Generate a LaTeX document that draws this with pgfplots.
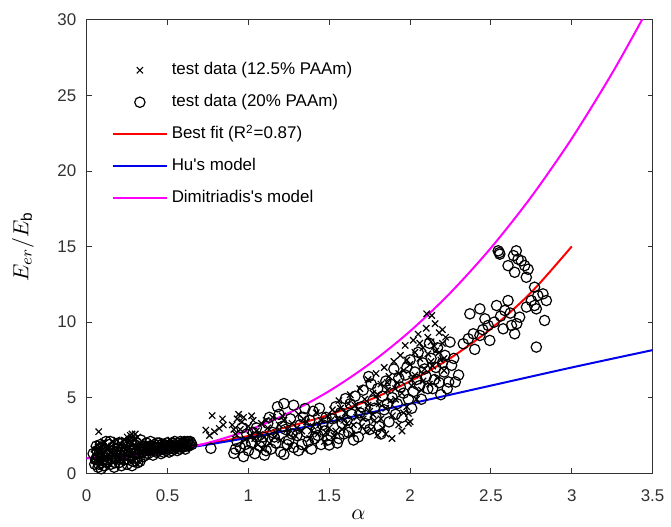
\documentclass[border=0pt]{standalone}
\usepackage{fontspec}
\setmainfont{Liberation Sans}
\usepackage{pgfplots}
\pgfplotsset{compat=1.18}
\definecolor{axgray}{RGB}{50,50,50}
\definecolor{fitred}{RGB}{255,0,0}
\definecolor{hublue}{RGB}{0,0,235}
\definecolor{dimmag}{RGB}{255,0,255}

\begin{document}
\begin{tikzpicture}
\begin{axis}[
    name=ax,
    scale only axis,
    width=284pt, height=227.5pt,
    xmin=0, xmax=3.5, ymin=0, ymax=30,
    xtick={0,0.5,1,1.5,2,2.5,3,3.5},
    ytick={0,5,10,15,20,25,30},
    tick align=inside,
    major tick length=2.5pt,
    axis line style={draw=axgray, line width=0.5pt},
    tick style={draw=axgray, line width=0.5pt},
    ticklabel style={font=\fontsize{8.5}{10}\selectfont, text=axgray},
    xticklabel style={yshift=-4.7pt},
    yticklabel style={xshift=-1.7pt},
    /pgf/number format/assume math mode=true,
    xlabel={$\alpha$},
    ylabel={$E_{er}/E_{\mathrm{b}}$},
    label style={font=\fontsize{11}{13}\selectfont},
    xlabel style={at={(axis description cs:0.48,-0.066)}, anchor=north},
    ylabel style={at={(axis description cs:-0.1127,0.5)}, anchor=center},
    legend image code/.code={%
        \draw[mark repeat=2,mark phase=2,#1] plot coordinates {(0pt,0pt) (13.5pt,0pt) (27pt,0pt)};},
    legend style={draw=none, fill=none, at={(axis description cs:0.044,0.914)},
        anchor=north west, inner sep=0pt, row sep=5.05pt,
        font=\fontsize{8.5}{10}\selectfont,
        nodes={inner xsep=2pt, inner ysep=1.25pt, text height=6.5pt, text depth=2pt}},
    legend cell align=left,
]

% 12.5% PAAm
\addplot[only marks, mark=x, mark size=2.25pt, mark options={line width=0.6pt}, black]
coordinates {
(0.05,1.2) (0.06,0.8) (0.07,1.5) (0.08,1.0) (0.09,1.8) (0.10,0.7) (0.10,1.3) (0.11,2.0)
(0.12,1.1) (0.13,1.6) (0.14,0.9) (0.15,1.4) (0.16,2.1) (0.17,1.2) (0.18,1.7) (0.19,0.8)
(0.20,1.5) (0.21,1.9) (0.22,1.1) (0.23,2.2) (0.24,1.6) (0.25,2.4) (0.26,1.3) (0.27,2.5)
(0.28,2.0) (0.29,0.9) (0.30,2.3) (0.31,1.5) (0.32,1.8) (0.33,0.7) (0.34,2.1) (0.35,1.2)
(0.28,2.6) (0.30,2.6) (0.26,2.2) (0.29,1.4) (0.31,0.6) (0.27,0.8) (0.074,2.75)
(0.045,1.6) (0.055,0.9) (0.065,1.9) (0.075,1.3) (0.085,0.6) (0.095,1.5) (0.105,2.1) (0.115,0.9)
(0.125,1.8) (0.135,1.2) (0.145,0.6) (0.155,1.8) (0.165,0.7) (0.175,1.5) (0.185,2.2) (0.195,1.1)
(0.205,2.0) (0.215,0.7) (0.225,1.7) (0.235,1.3) (0.245,0.9) (0.255,2.0) (0.265,1.7) (0.275,2.3)
(0.285,1.2) (0.295,2.2) (0.305,1.8) (0.315,2.4) (0.325,1.1) (0.335,1.5) (0.345,1.9) (0.355,1.6)
(0.37,1.9) (0.39,1.6) (0.41,2.0) (0.43,1.5) (0.45,1.8) (0.47,2.1) (0.49,1.6) (0.51,1.9)
(0.53,1.7) (0.55,2.0) (0.57,1.8) (0.59,2.1) (0.61,1.9) (0.63,2.0) (0.40,1.4) (0.46,1.5)
(0.52,2.2) (0.58,1.6)
(0.737,2.86) (0.776,3.82) (0.79,2.75) (0.82,2.97) (0.84,3.6) (0.845,3.2) (0.76,2.5)
(0.90,3.2) (0.92,2.6) (0.93,3.6) (0.95,2.9) (0.96,3.4) (0.98,2.2) (1.00,3.1) (1.01,2.5)
(1.03,3.5) (1.05,2.8) (1.06,1.9) (1.08,3.3) (1.10,2.4) (1.12,3.0) (1.13,2.0) (1.15,3.7)
(1.17,2.7) (1.19,3.2) (1.20,2.2) (1.22,3.5) (1.24,2.9) (1.26,1.8) (1.27,3.3) (1.29,2.5)
(1.31,3.9) (1.33,2.8) (1.35,1.54) (1.36,3.4) (1.38,2.3) (1.40,3.1) (1.42,4.0) (1.43,2.6)
(1.45,3.5) (1.47,2.1) (1.49,3.8) (0.94,3.9) (1.02,3.8) (1.09,1.6)
(0.91,2.9) (0.97,3.7) (1.04,2.3) (1.11,3.5) (1.16,2.4) (1.21,3.8) (1.25,2.6) (1.30,3.0)
(1.34,3.6) (1.39,2.8) (1.44,3.2) (1.48,2.7)
(1.50,3.0) (1.52,4.2) (1.53,2.5) (1.55,3.6) (1.56,4.8) (1.58,2.9) (1.60,4.0) (1.61,3.3)
(1.63,5.2) (1.64,2.6) (1.66,4.5) (1.67,3.7) (1.69,5.6) (1.70,3.1) (1.72,4.9) (1.73,2.75)
(1.74,6.2) (1.75,4.1) (1.77,5.3) (1.78,3.5) (1.79,6.6) (1.80,2.52) (1.81,4.6) (1.82,5.9)
(1.83,3.0) (1.84,7.0) (1.85,4.3) (1.86,5.5) (1.87,6.4) (1.888,2.3) (1.89,3.8) (1.90,7.4)
(1.91,4.9) (1.92,6.0) (1.93,3.2) (1.94,7.8) (1.95,5.3) (1.96,6.8) (1.97,8.46) (1.98,4.4)
(1.99,3.3) (1.99,3.96) (2.00,7.2) (2.01,5.8) (2.02,8.8) (2.03,6.5) (2.04,4.9) (2.05,9.2)
(2.06,7.6) (2.07,5.5) (2.08,8.3) (2.09,6.9) (2.10,9.6) (2.103,10.55) (2.11,7.9) (2.12,5.9)
(2.13,8.7) (2.134,10.44) (2.14,7.1) (2.155,9.9) (2.16,8.1) (2.17,6.3) (2.18,9.3) (2.19,7.5)
(2.20,8.6) (2.21,6.8) (2.22,9.0) (1.76,2.9) (1.85,2.6) (1.95,2.8) (2.00,3.4)
(1.51,3.5) (1.54,2.8) (1.57,4.3) (1.59,3.5) (1.62,4.6) (1.65,3.2) (1.68,4.2) (1.71,3.6)
(1.74,4.5) (1.77,3.9) (1.80,5.2) (1.82,3.6) (1.86,6.0) (1.88,4.8) (1.91,5.6) (1.93,6.6)
(1.96,4.0) (1.98,7.5) (2.01,6.2) (2.03,8.0) (2.06,8.6) (2.08,6.1) (2.11,9.0) (2.13,7.4)
(2.15,8.4) (2.18,8.0) (2.20,9.5) (2.21,7.6)
};
\addlegendentry{test data (12.5\% PAAm)}

% 20% PAAm
\addplot[only marks, mark=o, mark size=2.6pt, mark options={line width=0.6pt}, black]
coordinates {
(0.05,0.6) (0.06,1.0) (0.07,0.4) (0.08,1.4) (0.09,0.7) (0.10,1.7) (0.11,0.5) (0.12,1.2)
(0.13,0.9) (0.14,1.9) (0.15,0.6) (0.16,1.3) (0.17,0.4) (0.18,1.0) (0.19,1.6) (0.20,0.7)
(0.21,1.2) (0.22,2.0) (0.23,0.9) (0.24,1.4) (0.25,0.6) (0.26,1.8) (0.27,1.1) (0.28,0.5)
(0.29,1.6) (0.30,1.0) (0.31,2.0) (0.32,1.3) (0.33,0.8) (0.34,1.7) (0.35,1.1) (0.36,1.5)
(0.37,2.0) (0.38,1.3) (0.39,1.8) (0.40,1.6) (0.41,1.2) (0.42,1.9) (0.43,1.4) (0.44,1.7)
(0.45,2.0) (0.46,1.3) (0.47,1.6) (0.48,1.9) (0.49,1.5) (0.50,1.8) (0.51,1.4) (0.52,1.7)
(0.53,2.0) (0.54,1.6) (0.55,1.9) (0.56,1.5) (0.57,1.8) (0.58,2.1) (0.59,1.7) (0.60,2.0)
(0.61,1.6) (0.62,1.9) (0.63,1.8) (0.64,2.1) (0.65,1.9) (0.06,1.8) (0.09,0.3) (0.12,2.1)
(0.04,1.3) (0.768,1.65)
(0.055,0.9) (0.065,1.5) (0.075,0.6) (0.085,1.9) (0.095,1.1) (0.105,0.5) (0.115,1.5) (0.125,0.7)
(0.135,1.3) (0.145,2.1) (0.155,1.0) (0.165,1.7) (0.175,0.7) (0.185,1.4) (0.195,2.0) (0.205,1.0)
(0.215,0.5) (0.225,1.6) (0.235,1.2) (0.245,1.9) (0.255,0.9) (0.265,1.5) (0.275,2.1) (0.285,0.8)
(0.295,1.9) (0.305,1.3) (0.315,0.7) (0.325,1.6) (0.335,2.2) (0.345,1.4) (0.355,1.8) (0.365,1.2)
(0.375,1.7) (0.385,1.5) (0.395,2.1) (0.405,1.8) (0.415,1.5) (0.425,1.7) (0.435,2.0) (0.445,1.5)
(0.455,1.7) (0.465,1.9) (0.475,1.4) (0.485,1.7) (0.495,2.0) (0.505,1.6) (0.515,1.8) (0.525,1.5)
(0.535,1.8) (0.545,2.1) (0.555,1.7) (0.565,2.0) (0.575,1.6) (0.585,1.9) (0.595,1.8) (0.605,2.1)
(0.615,1.8) (0.625,2.1) (0.635,1.9) (0.645,2.0)
(0.91,1.32) (0.93,2.1) (0.95,1.7) (0.97,1.1) (0.99,2.6) (1.00,1.5) (1.02,2.0) (1.04,1.3)
(1.05,3.0) (1.07,1.8) (1.09,2.4) (1.10,1.2) (1.12,3.3) (1.14,1.6) (1.15,2.7) (1.17,2.0)
(1.19,3.9) (1.20,1.4) (1.22,4.61) (1.22,1.25) (1.23,2.9) (1.25,2.2) (1.26,3.6) (1.28,4.5)
(1.28,1.7) (1.30,2.5) (1.32,3.2) (1.33,1.9) (1.35,4.28) (1.36,2.7) (1.38,3.5) (1.39,1.6)
(1.41,2.3) (1.42,3.0) (1.44,4.3) (1.45,1.9) (1.47,2.8) (1.48,3.7) (1.50,1.87) (1.51,2.5)
(1.54,4.4) (1.56,2.3) (1.58,3.3) (1.60,4.94) (1.18,4.4) (1.05,2.4) (0.96,3.0) (1.13,3.7)
(0.92,1.6) (0.98,1.9) (1.03,2.7) (1.08,2.1) (1.11,1.5) (1.16,2.4) (1.21,3.1) (1.24,1.9)
(1.27,2.6) (1.31,1.5) (1.34,3.7) (1.37,2.1) (1.40,4.1) (1.43,2.5) (1.46,3.2) (1.49,2.2)
(1.52,3.6) (1.55,2.0) (1.57,4.0) (1.59,2.6)
(1.62,2.7) (1.64,3.9) (1.66,5.1) (1.68,2.4) (1.70,4.4) (1.72,3.3) (1.744,6.4) (1.75,2.9)
(1.77,4.8) (1.79,3.7) (1.80,5.6) (1.82,2.6) (1.84,4.2) (1.85,6.1) (1.87,3.4) (1.89,5.0)
(1.90,6.9) (1.92,4.6) (1.94,5.7) (1.95,3.7) (1.97,6.5) (1.99,4.9) (2.00,7.5) (2.02,5.4)
(2.04,6.2) (2.05,8.0) (2.07,4.9) (2.09,6.9) (2.11,5.6) (2.13,7.6) (2.15,6.2) (2.17,8.3)
(2.19,5.2) (2.216,7.8) (2.239,6.04) (2.247,8.68) (2.257,7.14) (2.28,6.04) (2.30,6.5)
(2.21,6.7) (2.27,7.6)
(1.61,3.5) (1.63,4.6) (1.65,2.2) (1.67,3.0) (1.69,4.0) (1.71,5.5) (1.73,3.8) (1.76,5.9)
(1.78,4.3) (1.81,3.1) (1.83,5.1) (1.86,4.6) (1.88,5.9) (1.91,3.9) (1.93,6.3) (1.96,5.3)
(1.98,7.0) (2.01,4.3) (2.03,6.7) (2.06,5.8) (2.08,7.3) (2.10,6.4) (2.12,8.6) (2.14,5.6)
(2.16,7.0) (2.18,6.0) (2.20,7.3) (2.23,5.6)
(2.329,8.57) (2.36,8.9) (2.37,10.55) (2.391,9.23) (2.432,10.88) (2.432,9.12) (2.463,10.22)
(2.483,9.78) (2.493,8.79) (2.535,11.1) (2.576,9.56) (2.586,10.77) (2.606,11.43) (2.627,9.78)
(2.647,9.23) (2.678,10.33) (2.75,11.43) (2.77,12.31) (2.77,11.1) (2.781,10.88) (2.79,11.76)
(2.822,11.87) (2.843,11.43) (2.832,10.11) (2.781,8.35) (2.40,8.2) (2.45,9.5) (2.52,10.0)
(2.56,10.4) (2.62,10.6) (2.66,9.9) (2.72,11.0)
(2.545,14.72) (2.555,14.5) (2.552,14.6) (2.657,14.72) (2.668,14.17) (2.606,13.74)
(2.709,13.74) (2.647,13.3) (2.719,12.97) (2.73,13.5) (2.688,14.06) (2.64,14.4)
};
\addlegendentry{test data (20\% PAAm)}

% best fit
\addplot[fitred, line width=1pt, smooth]
coordinates {
(0,1.00) (0.25,1.253) (0.5,1.571) (0.75,1.968) (1.0,2.467) (1.25,3.092) (1.5,3.875)
(1.75,4.856) (2.0,6.086) (2.25,7.627) (2.5,9.559) (2.75,11.98) (3.0,15.01)
};
\addlegendentry{Best fit (R\textsuperscript{2}=0.87)}

% Hu's model
\addplot[hublue, line width=1pt, smooth]
coordinates {
(0,1.0) (0.25,1.2) (0.5,1.5) (0.75,1.9) (1.0,2.35) (1.25,2.85) (1.5,3.4) (1.75,4.0)
(2.0,4.6) (2.5,5.8) (3.0,7.0) (3.5,8.15)
};
\addlegendentry{Hu\textquotesingle s model}

% Dimitriadis's model
\addplot[dimmag, line width=1pt, smooth]
coordinates {
(0,1.0) (0.25,1.10) (0.5,1.43) (0.75,2.01) (1.0,2.85) (1.25,3.99) (1.5,5.44) (1.75,7.24)
(2.0,9.40) (2.25,11.95) (2.5,14.91) (2.75,18.30) (3.0,22.15) (3.25,26.48) (3.45,30.31)
};
\addlegendentry{Dimitriadis\textquotesingle s model}

\end{axis}
% page margins as in the reference
\path (ax.north west) ++(0pt,10pt);
\path (ax.south west) ++(-43.5pt,0pt);
\end{tikzpicture}
\end{document}
